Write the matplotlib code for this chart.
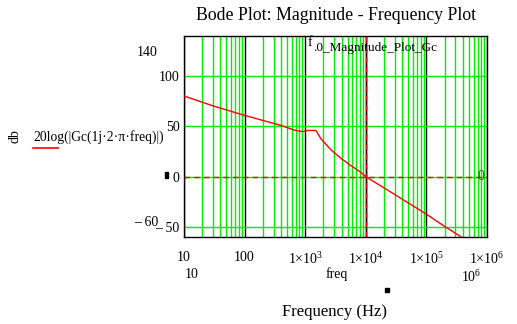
import numpy as np
import matplotlib.pyplot as plt
from matplotlib.ticker import FixedLocator, NullFormatter

plt.rcParams['font.family'] = ['Liberation Serif', 'DejaVu Serif']
plt.rcParams['mathtext.fontset'] = 'custom'
plt.rcParams['mathtext.rm'] = 'Liberation Serif'
plt.rcParams['mathtext.it'] = 'Liberation Serif:italic'

# =========================
# Data
# =========================
freq = [10, 30, 100, 200, 400, 650, 900, 1000, 1100, 1500, 1820, 2660,
        3890, 5690, 8320, 10000, 30000, 100000, 200000, 400000]
mag_db = [80.3, 70.5, 61.0, 56.0, 51.0, 46.5, 44.8, 45.5, 46.0, 46.0, 37.7,
          26.7, 18.3, 11.0, 4.3, 0.0, -17.7, -37.3, -49.5, -61.0]

f0 = 1e4          # vertical marker
zero_level = 0    # horizontal marker

x_ticks = [10, 100, 1e3, 1e4, 1e5, 1e6]
x_tick_labels = ["10", "100", "1×10$^{3}$", "1×10$^{4}$", "1×10$^{5}$", "1×10$^{6}$"]
y_ticks = [-50, 0, 50, 100]
y_tick_labels = ["– 50", "0", "50", "100"]
y_lim = (-60, 140)
x_lim = (10, 1e6)

W, H = 517, 324

def fx(px):
    return px / W

def fy(py):
    return 1 - py / H

fig = plt.figure(figsize=(W / 100, H / 100), dpi=100)
ax = fig.add_axes([fx(184), fy(237), (487 - 184) / W, (237 - 36) / H])

ax.set_xscale("log")
ax.set_xlim(*x_lim)
ax.set_ylim(*y_lim)

minor = [m * 10 ** d for d in range(1, 6) for m in range(2, 10)]
ax.xaxis.set_major_locator(FixedLocator(x_ticks))
ax.xaxis.set_minor_locator(FixedLocator(minor))
ax.xaxis.set_minor_formatter(NullFormatter())
ax.set_xticklabels(x_tick_labels)
ax.set_yticks(y_ticks)
ax.set_yticklabels(y_tick_labels)
ax.tick_params(axis="both", which="both", length=0, labelsize=10, pad=3)
ax.tick_params(axis="x", pad=10)

ax.grid(axis="x", which="minor", color="#00ee00", lw=1.0)
ax.grid(axis="x", which="major", color="black", lw=1.0)
ax.grid(axis="y", which="major", color="#00ee00", lw=1.0)
ax.set_axisbelow(True)

# markers
ax.axhline(zero_level, color="red", lw=1.0, ls=(0, (4, 3)), zorder=2)
ax.axvline(f0, color="black", lw=1.0, zorder=2)
ax.axvline(f0, color="red", lw=1.0, ls=(0, (4, 3)), zorder=2)

ax.plot(freq, mag_db, color="red", lw=1.0, zorder=3)

for s in ax.spines.values():
    s.set_color("black")
    s.set_linewidth(1.0)

# =========================
# Mathcad-style annotations
# =========================
fig.text(fx(336), fy(16), "Bode Plot: Magnitude - Frequency Plot",
         fontsize=12.8, ha="center", va="center")
fig.text(fx(308), fy(43), "f", fontsize=10, ha="left", va="center")
fig.text(fx(313), fy(48), ".0_Magnitude_Plot_Gc", fontsize=9.5, ha="left", va="center")
fig.text(fx(481), fy(176), "0", fontsize=10, ha="center", va="center", color="#3a4a20")

fig.text(fx(158), fy(52), "140", fontsize=10, ha="right", va="center")
fig.text(fx(158), fy(222), "– 60", fontsize=10, ha="right", va="center")

fig.text(fx(15), fy(136), "db", fontsize=10, rotation=90, ha="center", va="center")
fig.text(fx(33), fy(137), "20log(|Gc(1j·2·π·freq)|)", fontsize=9.8,
         ha="left", va="center")
fig.add_artist(plt.Line2D([fx(33), fx(58)], [fy(147.5), fy(147.5)], color="red", lw=1.2))
fig.add_artist(plt.Rectangle((fx(165), fy(178)), 3 / W, 6 / H, color="black"))

fig.text(fx(192), fy(274), "10", fontsize=10, ha="center", va="center")
fig.text(fx(337), fy(274), "freq", fontsize=10, ha="center", va="center")
fig.text(fx(471), fy(277), "10$^{6}$", fontsize=10, ha="center", va="center")
fig.add_artist(plt.Rectangle((fx(385), fy(292)), 4 / W, 4 / H, color="black"))
fig.text(fx(334), fy(312), "Frequency (Hz)", fontsize=12, ha="center", va="center")

fig.savefig("out.png", dpi=100)
